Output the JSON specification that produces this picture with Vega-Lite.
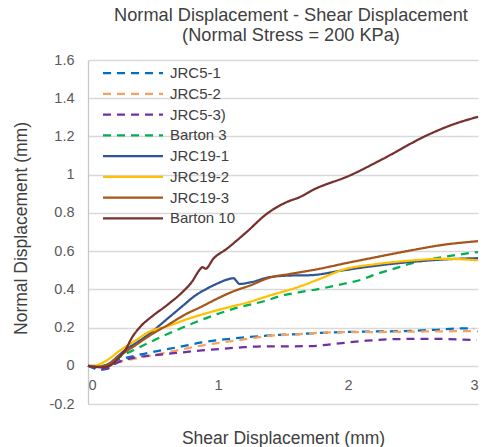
{
  "$schema": "https://vega.github.io/schema/vega-lite/v6.json",
  "width": 390,
  "height": 344,
  "autosize": {"type": "none"},
  "padding": {"left": 88, "top": 60, "right": 6, "bottom": 43},
  "background": "white",
  "title": {
    "text": ["Normal Displacement - Shear Displacement", "(Normal Stress = 200 KPa)"],
    "font": "Liberation Sans",
    "fontSize": 18.2,
    "fontWeight": "normal",
    "color": "#404040",
    "lineHeight": 20,
    "anchor": "middle",
    "frame": "group",
    "dx": 8,
    "offset": 6.5
  },
  "config": {
    "view": {"stroke": null},
    "font": "Liberation Sans",
    "legend": {
      "orient": "none",
      "legendX": 33.5,
      "legendY": 1.5,
      "padding": 0,
      "title": null,
      "symbolType": "M-3,0H3",
      "symbolSize": 400,
      "symbolStrokeWidth": 2.25,
      "symbolFillColor": "transparent",
      "labelFont": "Liberation Sans",
      "labelFontSize": 15,
      "labelColor": "#404040",
      "labelOffset": 25.5,
      "rowPadding": 0.75
    }
  },
  "data": {
    "values": [
      {"s": "JRC5-1", "x": 0, "y": 0}, {"s": "JRC5-1", "x": 0.04, "y": -0.012}, {"s": "JRC5-1", "x": 0.08, "y": -0.022}, {"s": "JRC5-1", "x": 0.15, "y": -0.015}, {"s": "JRC5-1", "x": 0.23, "y": 0.025}, {"s": "JRC5-1", "x": 0.36, "y": 0.052}, {"s": "JRC5-1", "x": 0.5, "y": 0.072}, {"s": "JRC5-1", "x": 0.62, "y": 0.088}, {"s": "JRC5-1", "x": 0.75, "y": 0.105}, {"s": "JRC5-1", "x": 0.875, "y": 0.122}, {"s": "JRC5-1", "x": 1.05, "y": 0.138}, {"s": "JRC5-1", "x": 1.2, "y": 0.148}, {"s": "JRC5-1", "x": 1.375, "y": 0.158}, {"s": "JRC5-1", "x": 1.63, "y": 0.166}, {"s": "JRC5-1", "x": 1.89, "y": 0.175}, {"s": "JRC5-1", "x": 2.14, "y": 0.179}, {"s": "JRC5-1", "x": 2.4, "y": 0.181}, {"s": "JRC5-1", "x": 2.66, "y": 0.188}, {"s": "JRC5-1", "x": 2.89, "y": 0.196}, {"s": "JRC5-1", "x": 2.97, "y": 0.195},
      {"s": "JRC5-2", "x": 0, "y": 0}, {"s": "JRC5-2", "x": 0.08, "y": -0.005}, {"s": "JRC5-2", "x": 0.15, "y": 0.005}, {"s": "JRC5-2", "x": 0.23, "y": 0.02}, {"s": "JRC5-2", "x": 0.36, "y": 0.037}, {"s": "JRC5-2", "x": 0.5, "y": 0.055}, {"s": "JRC5-2", "x": 0.62, "y": 0.072}, {"s": "JRC5-2", "x": 0.75, "y": 0.09}, {"s": "JRC5-2", "x": 0.875, "y": 0.106}, {"s": "JRC5-2", "x": 1.05, "y": 0.124}, {"s": "JRC5-2", "x": 1.2, "y": 0.138}, {"s": "JRC5-2", "x": 1.375, "y": 0.155}, {"s": "JRC5-2", "x": 1.63, "y": 0.166}, {"s": "JRC5-2", "x": 1.89, "y": 0.175}, {"s": "JRC5-2", "x": 2.14, "y": 0.176}, {"s": "JRC5-2", "x": 2.4, "y": 0.178}, {"s": "JRC5-2", "x": 2.66, "y": 0.18}, {"s": "JRC5-2", "x": 2.96, "y": 0.181}, {"s": "JRC5-2", "x": 3.0, "y": 0.18},
      {"s": "JRC5-3)", "x": 0, "y": 0}, {"s": "JRC5-3)", "x": 0.05, "y": -0.01}, {"s": "JRC5-3)", "x": 0.13, "y": -0.016}, {"s": "JRC5-3)", "x": 0.23, "y": 0.018}, {"s": "JRC5-3)", "x": 0.36, "y": 0.043}, {"s": "JRC5-3)", "x": 0.5, "y": 0.055}, {"s": "JRC5-3)", "x": 0.62, "y": 0.063}, {"s": "JRC5-3)", "x": 0.75, "y": 0.072}, {"s": "JRC5-3)", "x": 0.875, "y": 0.08}, {"s": "JRC5-3)", "x": 1.05, "y": 0.09}, {"s": "JRC5-3)", "x": 1.2, "y": 0.097}, {"s": "JRC5-3)", "x": 1.375, "y": 0.102}, {"s": "JRC5-3)", "x": 1.55, "y": 0.102}, {"s": "JRC5-3)", "x": 1.71, "y": 0.103}, {"s": "JRC5-3)", "x": 1.89, "y": 0.114}, {"s": "JRC5-3)", "x": 2.14, "y": 0.131}, {"s": "JRC5-3)", "x": 2.4, "y": 0.14}, {"s": "JRC5-3)", "x": 2.66, "y": 0.141}, {"s": "JRC5-3)", "x": 2.99, "y": 0.134},
      {"s": "Barton 3", "x": 0, "y": 0}, {"s": "Barton 3", "x": 0.1, "y": 0.0}, {"s": "Barton 3", "x": 0.17, "y": 0.012}, {"s": "Barton 3", "x": 0.23, "y": 0.04}, {"s": "Barton 3", "x": 0.36, "y": 0.085}, {"s": "Barton 3", "x": 0.56, "y": 0.15}, {"s": "Barton 3", "x": 0.862, "y": 0.237}, {"s": "Barton 3", "x": 1.118, "y": 0.298}, {"s": "Barton 3", "x": 1.375, "y": 0.342}, {"s": "Barton 3", "x": 1.48, "y": 0.365}, {"s": "Barton 3", "x": 1.63, "y": 0.385}, {"s": "Barton 3", "x": 1.785, "y": 0.403}, {"s": "Barton 3", "x": 1.96, "y": 0.428}, {"s": "Barton 3", "x": 2.1, "y": 0.45}, {"s": "Barton 3", "x": 2.22, "y": 0.48}, {"s": "Barton 3", "x": 2.35, "y": 0.507}, {"s": "Barton 3", "x": 2.48, "y": 0.534}, {"s": "Barton 3", "x": 2.6, "y": 0.553}, {"s": "Barton 3", "x": 2.73, "y": 0.569}, {"s": "Barton 3", "x": 2.94, "y": 0.59}, {"s": "Barton 3", "x": 3.0, "y": 0.595},
      {"s": "JRC19-1", "x": 0, "y": 0}, {"s": "JRC19-1", "x": 0.05, "y": -0.005}, {"s": "JRC19-1", "x": 0.1, "y": -0.004}, {"s": "JRC19-1", "x": 0.17, "y": 0.015}, {"s": "JRC19-1", "x": 0.23, "y": 0.05}, {"s": "JRC19-1", "x": 0.3, "y": 0.09}, {"s": "JRC19-1", "x": 0.36, "y": 0.115}, {"s": "JRC19-1", "x": 0.477, "y": 0.17}, {"s": "JRC19-1", "x": 0.6, "y": 0.24}, {"s": "JRC19-1", "x": 0.733, "y": 0.316}, {"s": "JRC19-1", "x": 0.82, "y": 0.365}, {"s": "JRC19-1", "x": 0.913, "y": 0.403}, {"s": "JRC19-1", "x": 1.0, "y": 0.432}, {"s": "JRC19-1", "x": 1.09, "y": 0.455}, {"s": "JRC19-1", "x": 1.12, "y": 0.458}, {"s": "JRC19-1", "x": 1.14, "y": 0.445}, {"s": "JRC19-1", "x": 1.165, "y": 0.428}, {"s": "JRC19-1", "x": 1.246, "y": 0.436}, {"s": "JRC19-1", "x": 1.4, "y": 0.464}, {"s": "JRC19-1", "x": 1.55, "y": 0.472}, {"s": "JRC19-1", "x": 1.71, "y": 0.474}, {"s": "JRC19-1", "x": 1.96, "y": 0.499}, {"s": "JRC19-1", "x": 2.22, "y": 0.524}, {"s": "JRC19-1", "x": 2.48, "y": 0.543}, {"s": "JRC19-1", "x": 2.73, "y": 0.556}, {"s": "JRC19-1", "x": 3.0, "y": 0.563},
      {"s": "JRC19-2", "x": 0, "y": 0}, {"s": "JRC19-2", "x": 0.05, "y": 0.0}, {"s": "JRC19-2", "x": 0.1, "y": 0.012}, {"s": "JRC19-2", "x": 0.17, "y": 0.04}, {"s": "JRC19-2", "x": 0.23, "y": 0.072}, {"s": "JRC19-2", "x": 0.36, "y": 0.13}, {"s": "JRC19-2", "x": 0.477, "y": 0.18}, {"s": "JRC19-2", "x": 0.618, "y": 0.208}, {"s": "JRC19-2", "x": 0.733, "y": 0.237}, {"s": "JRC19-2", "x": 0.99, "y": 0.29}, {"s": "JRC19-2", "x": 1.246, "y": 0.335}, {"s": "JRC19-2", "x": 1.4, "y": 0.368}, {"s": "JRC19-2", "x": 1.63, "y": 0.415}, {"s": "JRC19-2", "x": 1.785, "y": 0.455}, {"s": "JRC19-2", "x": 1.964, "y": 0.503}, {"s": "JRC19-2", "x": 2.22, "y": 0.532}, {"s": "JRC19-2", "x": 2.477, "y": 0.55}, {"s": "JRC19-2", "x": 2.733, "y": 0.56}, {"s": "JRC19-2", "x": 3.0, "y": 0.552},
      {"s": "JRC19-3", "x": 0, "y": 0}, {"s": "JRC19-3", "x": 0.05, "y": -0.005}, {"s": "JRC19-3", "x": 0.1, "y": -0.004}, {"s": "JRC19-3", "x": 0.17, "y": 0.012}, {"s": "JRC19-3", "x": 0.23, "y": 0.045}, {"s": "JRC19-3", "x": 0.36, "y": 0.105}, {"s": "JRC19-3", "x": 0.477, "y": 0.159}, {"s": "JRC19-3", "x": 0.618, "y": 0.215}, {"s": "JRC19-3", "x": 0.733, "y": 0.263}, {"s": "JRC19-3", "x": 0.875, "y": 0.31}, {"s": "JRC19-3", "x": 0.99, "y": 0.35}, {"s": "JRC19-3", "x": 1.12, "y": 0.39}, {"s": "JRC19-3", "x": 1.246, "y": 0.42}, {"s": "JRC19-3", "x": 1.4, "y": 0.462}, {"s": "JRC19-3", "x": 1.55, "y": 0.48}, {"s": "JRC19-3", "x": 1.785, "y": 0.508}, {"s": "JRC19-3", "x": 1.964, "y": 0.534}, {"s": "JRC19-3", "x": 2.22, "y": 0.569}, {"s": "JRC19-3", "x": 2.477, "y": 0.603}, {"s": "JRC19-3", "x": 2.733, "y": 0.633}, {"s": "JRC19-3", "x": 3.0, "y": 0.652},
      {"s": "Barton 10", "x": 0, "y": 0}, {"s": "Barton 10", "x": 0.05, "y": -0.005}, {"s": "Barton 10", "x": 0.1, "y": -0.008}, {"s": "Barton 10", "x": 0.16, "y": -0.002}, {"s": "Barton 10", "x": 0.23, "y": 0.037}, {"s": "Barton 10", "x": 0.285, "y": 0.08}, {"s": "Barton 10", "x": 0.336, "y": 0.145}, {"s": "Barton 10", "x": 0.413, "y": 0.212}, {"s": "Barton 10", "x": 0.477, "y": 0.25}, {"s": "Barton 10", "x": 0.618, "y": 0.323}, {"s": "Barton 10", "x": 0.733, "y": 0.39}, {"s": "Barton 10", "x": 0.8, "y": 0.44}, {"s": "Barton 10", "x": 0.862, "y": 0.505}, {"s": "Barton 10", "x": 0.88, "y": 0.516}, {"s": "Barton 10", "x": 0.905, "y": 0.508}, {"s": "Barton 10", "x": 0.964, "y": 0.56}, {"s": "Barton 10", "x": 1.067, "y": 0.612}, {"s": "Barton 10", "x": 1.22, "y": 0.7}, {"s": "Barton 10", "x": 1.375, "y": 0.795}, {"s": "Barton 10", "x": 1.53, "y": 0.857}, {"s": "Barton 10", "x": 1.63, "y": 0.883}, {"s": "Barton 10", "x": 1.73, "y": 0.92}, {"s": "Barton 10", "x": 2.015, "y": 0.996}, {"s": "Barton 10", "x": 2.27, "y": 1.083}, {"s": "Barton 10", "x": 2.605, "y": 1.205}, {"s": "Barton 10", "x": 2.785, "y": 1.257}, {"s": "Barton 10", "x": 3.0, "y": 1.303}
    ]
  },
  "mark": {"type": "line", "strokeWidth": 2.25, "interpolate": "monotone", "strokeCap": "butt"},
  "encoding": {
    "x": {
      "field": "x",
      "type": "quantitative",
      "scale": {"domain": [0, 3], "nice": false, "zero": false},
      "axis": {
        "values": [0, 1, 2, 3],
        "format": "d",
        "offset": -37,
        "domain": false,
        "ticks": false,
        "grid": false,
        "labelFont": "Liberation Sans",
        "labelFontSize": 14.5,
        "labelColor": "#595959",
        "labelPadding": 11,
        "title": "Shear Displacement  (mm)",
        "titleFont": "Liberation Sans",
        "titleFontSize": 17.5,
        "titleFontWeight": "normal",
        "titleColor": "#404040",
        "titlePadding": 38
      }
    },
    "y": {
      "field": "y",
      "type": "quantitative",
      "scale": {"domain": [-0.2, 1.6], "nice": false, "zero": false},
      "axis": {
        "values": [-0.2, 0, 0.2, 0.4, 0.6, 0.8, 1, 1.2, 1.4, 1.6],
        "labelExpr": "toString(round(datum.value*10)/10)",
        "domain": true,
        "domainColor": "#c8c8c8",
        "domainWidth": 1.3,
        "ticks": false,
        "grid": true,
        "gridColor": "#d9d9d9",
        "gridWidth": 1.3,
        "labelFont": "Liberation Sans",
        "labelFontSize": 14.5,
        "labelColor": "#595959",
        "labelPadding": 14,
        "title": "Normal Displacement (mm)",
        "titleFont": "Liberation Sans",
        "titleFontSize": 17.5,
        "titleFontWeight": "normal",
        "titleColor": "#404040",
        "titlePadding": 19,
        "titleY": 168
      }
    },
    "color": {
      "field": "s",
      "type": "nominal",
      "scale": {
        "domain": ["JRC5-1", "JRC5-2", "JRC5-3)", "Barton 3", "JRC19-1", "JRC19-2", "JRC19-3", "Barton 10"],
        "range": ["#0070c0", "#f6a25e", "#7030a0", "#00b050", "#2f5597", "#ffc000", "#a5561c", "#78302f"]
      }
    },
    "strokeDash": {
      "field": "s",
      "type": "nominal",
      "scale": {
        "domain": ["JRC5-1", "JRC5-2", "JRC5-3)", "Barton 3", "JRC19-1", "JRC19-2", "JRC19-3", "Barton 10"],
        "range": [[8, 6], [8, 6], [8, 6], [8, 6], [1, 0], [1, 0], [1, 0], [1, 0]]
      }
    }
  }
}
